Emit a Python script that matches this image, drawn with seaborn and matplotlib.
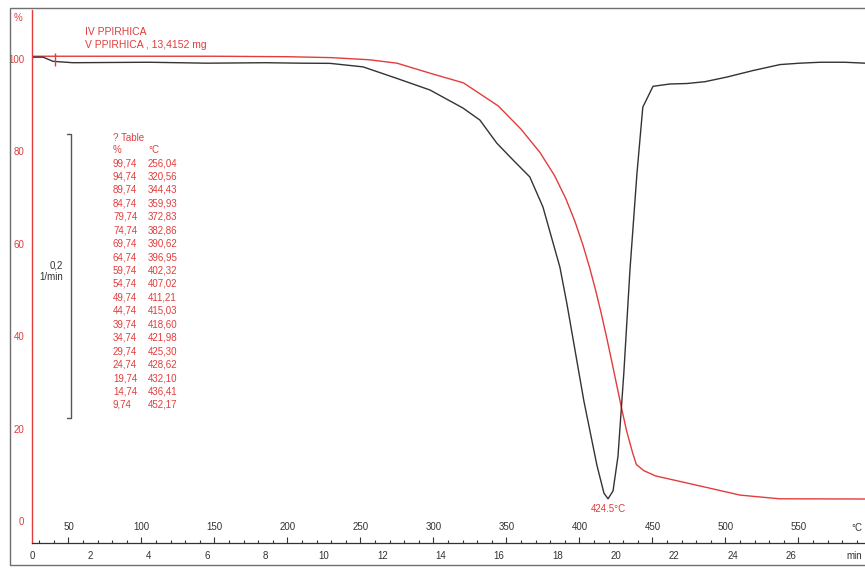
import pandas as pd
import matplotlib.pyplot as plt
import seaborn as sns
from matplotlib.patches import Rectangle
from matplotlib.ticker import MultipleLocator, FuncFormatter

# TG evaluation table printed on the chart (mass %, temperature in °C)
table_mass = [99.74, 94.74, 89.74, 84.74, 79.74, 74.74, 69.74, 64.74, 59.74,
              54.74, 49.74, 44.74, 39.74, 34.74, 29.74, 24.74, 19.74, 14.74, 9.74]
table_temp = [256.04, 320.56, 344.43, 359.93, 372.83, 382.86, 390.62, 396.95,
              402.32, 407.02, 411.21, 415.03, 418.60, 421.98, 425.30, 428.62,
              432.10, 436.41, 452.17]

# extra TG points (outside / between table rows)
extra_temp = [25, 150, 200, 230, 275, 298, 439, 444, 464, 485, 510, 537, 600]
extra_mass = [100.5, 100.5, 100.4, 100.2, 99.0, 96.8, 12.2, 10.9, 8.9, 7.4, 5.6, 4.8, 4.75]

# heating program
start_temp = 25
heat_rate = 20  # K/min

# DTG trace (black), in units of the % axis
dtg_time = [0, 0.38, 0.72, 1.4, 4.0, 6.0, 8.0, 9.2, 10.21, 11.34, 12.5, 13.63,
            14.76, 15.34, 15.92, 16.47, 17.05, 17.5, 18.08, 18.32, 18.9, 19.35,
            19.59, 19.73, 19.9, 20.07, 20.27, 20.48, 20.72, 20.92, 21.27, 21.85,
            22.43, 23.05, 23.8, 24.69, 25.62, 26.3, 26.99, 27.84, 28.53]
dtg_value = [100.3, 100.3, 99.4, 99.1, 99.2, 99.0, 99.1, 99.0, 98.96, 98.2, 95.7,
             93.2, 89.3, 86.7, 81.7, 78.1, 74.4, 67.9, 54.9, 47.0, 26.0, 12.0,
             6.0, 4.8, 6.5, 14.0, 32.0, 54.3, 75.2, 89.5, 94.0, 94.5, 94.6, 95.0,
             96.0, 97.4, 98.7, 99.0, 99.2, 99.2, 99.0]

peak_label = "424.5°C"
sample_lines = ["IV PPIRHICA", "V PPIRHICA , 13,4152 mg"]

# scale bar for the DTG curve
bar_time, bar_tick_time = 1.35, 1.2
bar_low, bar_high = 22.3, 83.7
start_mark_time = 0.79

RED = "#e23c3c"
DARK = "#333333"

sns.set_style("white")
plt.rcParams["font.family"] = ["Liberation Sans", "DejaVu Sans"]

# TG data frame
tg = pd.DataFrame({"temp": table_temp + extra_temp, "mass": table_mass + extra_mass})
tg = tg.sort_values("temp")
tg["time"] = (tg["temp"] - start_temp) / heat_rate

W, H = 865, 568
fig = plt.figure(figsize=(W / 100, H / 100), dpi=100)
ax = fig.add_axes([32 / W, 1 - 543 / H, (W - 32) / W, (543 - 10) / H])

sns.lineplot(data=tg, x="time", y="mass", ax=ax, color=RED, lw=1.0, sort=False)
sns.lineplot(x=dtg_time, y=dtg_value, ax=ax, color=DARK, lw=1.0)

ax.set_xlim(0, 28.53)
ax.set_ylim(-4.76, 110.5)
ax.set_xlabel("")
ax.set_ylabel("")

# spines
for s in ["top", "right"]:
    ax.spines[s].set_visible(False)
ax.spines["left"].set_color(RED)
ax.spines["left"].set_linewidth(1.0)
ax.spines["bottom"].set_color(DARK)
ax.spines["bottom"].set_linewidth(0.9)

# y axis
ax.yaxis.set_major_locator(MultipleLocator(20))
ax.yaxis.set_minor_locator(MultipleLocator(10))
ax.tick_params(axis="y", which="major", direction="out", length=4, width=0.8,
               color=RED, labelcolor=RED, labelsize=7, pad=1.5)
ax.tick_params(axis="y", which="minor", direction="out", length=2.5, width=0.8, color=RED)
ax.set_yticks([0, 20, 40, 60, 80, 100])
ax.set_yticklabels(["0", "20", "40", "60", "80", "100"])

# time axis (bottom); the unit label takes the place of the last number
ax.xaxis.set_major_locator(MultipleLocator(2))
ax.xaxis.set_minor_locator(MultipleLocator(1))
ax.xaxis.set_major_formatter(FuncFormatter(lambda v, p: "" if v >= 28 else f"{v:.0f}"))
ax.tick_params(axis="x", which="major", direction="out", length=4.5, width=0.8,
               color=DARK, labelcolor=DARK, labelsize=7, pad=1.5)
ax.tick_params(axis="x", which="minor", direction="out", length=2.5, width=0.8, color=DARK)

# temperature axis sharing the same line, ticks and labels above it
sec = ax.secondary_xaxis(0, functions=(lambda t: start_temp + heat_rate * t,
                                       lambda T: (T - start_temp) / heat_rate))
sec.spines["bottom"].set_visible(False)
sec.xaxis.set_major_locator(MultipleLocator(50))
sec.xaxis.set_minor_locator(MultipleLocator(10))
sec.tick_params(axis="x", which="major", direction="in", length=4.5, width=0.8,
                color=DARK, labelcolor=DARK, labelsize=7, pad=-15)
sec.tick_params(axis="x", which="minor", direction="in", length=2.5, width=0.8, color=DARK)
sec.set_xticks(range(50, 600, 50))

# DTG peak label
i_min = dtg_value.index(min(dtg_value))
ax.annotate(peak_label, (dtg_time[i_min], dtg_value[i_min]), xytext=(0, -4),
            textcoords="offset points", ha="center", va="top", color=RED, fontsize=7)

# scale bar
ax.plot([bar_tick_time, bar_time, bar_time, bar_tick_time],
        [bar_high, bar_high, bar_low, bar_low], color="#555555", lw=1.0)
ax.vlines(start_mark_time, 98.4, 101.3, color=RED, lw=1.0)

# texts in figure pixels
def ftext(x, y, s, **kw):
    kw.setdefault("fontsize", 7)
    kw.setdefault("va", "center")
    fig.text(x / W, 1 - y / H, s, **kw)

ftext(18, 18, "%", color=RED, ha="center")
ftext(85, 32, sample_lines[0], color=RED, fontsize=7.5)
ftext(85, 45, sample_lines[1], color=RED, fontsize=7.5)
ftext(63, 265, "0,2", color=DARK, ha="right")
ftext(63, 277, "1/min", color=DARK, ha="right")
ftext(862, 556, "min", color=DARK, ha="right")
ftext(862, 528, "°C", color=DARK, ha="right")

ftext(113, 138, "? Table", color=RED)
ftext(113, 150, "%", color=RED)
ftext(148, 150, "°C", color=RED)
for k, (m, t) in enumerate(zip(table_mass, table_temp)):
    y = 163 + k * 13.44
    ftext(113, y, f"{m:.2f}".replace(".", ","), color=RED)
    ftext(148, y, f"{t:.2f}".replace(".", ","), color=RED)

# outer instrument frame
fig.patches.append(Rectangle((10 / W, 1 - 565 / H), 2, (565 - 8) / H,
                             transform=fig.transFigure, fill=False,
                             ec="#707070", lw=1.0))

fig.savefig("out.png", dpi=100)
